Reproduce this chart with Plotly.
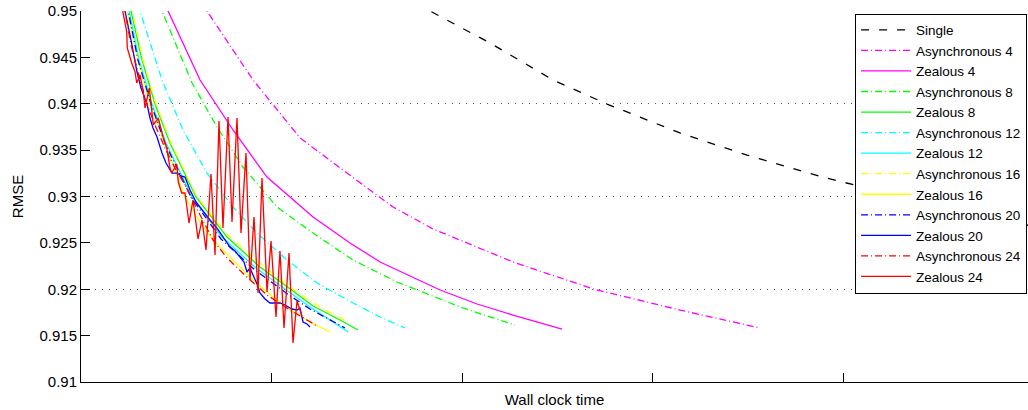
import plotly.graph_objects as go

# ---- data (x: wall clock time in tick units, y: RMSE) ----
single_x = [1.675, 1.832, 2.147, 2.478, 2.761, 3.144, 3.496, 3.890, 4.299, 4.824, 5.034]
single_y = [0.95183, 0.95, 0.94655, 0.94256, 0.93997, 0.93685, 0.93447, 0.93210, 0.93005, 0.92757, 0.92660]

async4_x = [0.598, 0.661, 0.903, 1.150, 1.396, 1.638, 1.848, 2.268, 2.688, 3.144, 3.564]
async4_y = [0.95226, 0.95, 0.94256, 0.93631, 0.93253, 0.92887, 0.92650, 0.92294, 0.92003, 0.91776, 0.91582]

zeal4_x = [0.415, 0.457, 0.625, 0.798, 0.976, 1.218, 1.412, 1.570, 1.885, 2.079, 2.268, 2.525]
zeal4_y = [0.95226, 0.95, 0.94256, 0.93717, 0.93210, 0.92779, 0.92499, 0.92294, 0.91992, 0.91841, 0.91722, 0.91571]

async8_x = [0.388, 0.425, 0.583, 0.714, 0.850, 1.029, 1.218, 1.428, 1.659, 2.005, 2.278]
async8_y = [0.95226, 0.95, 0.94224, 0.93749, 0.93318, 0.92887, 0.92606, 0.92315, 0.92078, 0.91798, 0.91614]

zeal8_x = [0.2415, 0.2625, 0.3202, 0.3885, 0.4672, 0.6037, 0.7664, 0.9396, 1.1129, 1.2178, 1.3596, 1.4541]
zeal8_y = [0.95226, 0.95, 0.94472, 0.93997, 0.93577, 0.92995, 0.92563, 0.92240, 0.91981, 0.91819, 0.91668, 0.91561]

async12_x = [0.2887, 0.3097, 0.4252, 0.5354, 0.6614, 0.7979, 0.9239, 1.0814, 1.2388, 1.4278, 1.5696, 1.7008]
async12_y = [0.95226, 0.95, 0.94256, 0.93717, 0.93253, 0.92887, 0.92606, 0.92315, 0.92067, 0.91852, 0.91701, 0.91582]

zeal12_x = [0.2310, 0.2520, 0.3045, 0.3727, 0.4462, 0.5827, 0.7402, 0.9186, 1.0971, 1.2021, 1.3071, 1.4016]
zeal12_y = [0.95226, 0.95, 0.94472, 0.93997, 0.93577, 0.92995, 0.92563, 0.92229, 0.91960, 0.91809, 0.91668, 0.91539]

async16_x = [0.2467, 0.2677, 0.3255, 0.3937, 0.4724, 0.6089, 0.7717, 0.9449, 1.1181, 1.2546, 1.4121]
async16_y = [0.95226, 0.95, 0.94472, 0.93997, 0.93577, 0.92995, 0.92585, 0.92272, 0.91992, 0.91809, 0.91636]

zeal16_x = [0.2205, 0.2415, 0.2992, 0.3622, 0.4147, 0.5459, 0.6247, 0.6929, 0.7822, 0.9029, 0.9764, 1.0604, 1.2021, 1.3071]
zeal16_y = [0.95226, 0.95, 0.94472, 0.93997, 0.93717, 0.92995, 0.92725, 0.92531, 0.92348, 0.92100, 0.91970, 0.91830, 0.91647, 0.91539]

async20_x = [0.2257, 0.2467, 0.2992, 0.3675, 0.4409, 0.5774, 0.7349, 0.9134, 1.0919, 1.2021, 1.3071, 1.3858]
async20_y = [0.95226, 0.95, 0.94472, 0.93997, 0.93577, 0.92995, 0.92542, 0.92207, 0.91938, 0.91787, 0.91668, 0.91582]

zeal20_x = [0.2047, 0.2310, 0.2625, 0.2940, 0.3150, 0.3465, 0.3622, 0.3780, 0.3990, 0.4252, 0.4462,
            0.4777, 0.5039, 0.5249, 0.5459, 0.5722, 0.6037, 0.6352, 0.6772, 0.7139, 0.7507, 0.7822,
            0.8084, 0.8346, 0.8556, 0.8714, 0.8871, 0.9029, 0.9239, 0.9396, 0.9659, 0.9921, 1.0184,
            1.0446, 1.0709, 1.0866, 1.1076, 1.1339, 1.1496, 1.1654, 1.1864, 1.2021]
zeal20_y = [0.95226, 0.95, 0.94687, 0.94342, 0.94170, 0.93997, 0.93846, 0.93739, 0.93641, 0.93469, 0.93361,
            0.93253, 0.93253, 0.93221, 0.93210, 0.93070, 0.92941, 0.92854, 0.92747, 0.92660, 0.92552, 0.92455,
            0.92412, 0.92348, 0.92294, 0.92186, 0.92229, 0.92153, 0.92057, 0.91960, 0.91895, 0.91852, 0.91852,
            0.91852, 0.91830, 0.91809, 0.91787, 0.91776, 0.91798, 0.91647, 0.91625, 0.91593]

async24_x = [0.2100, 0.2310, 0.2625, 0.3097, 0.3465, 0.3885, 0.4409, 0.4934, 0.5459, 0.5984, 0.6509,
             0.6929, 0.7664, 0.8766, 0.9764, 1.0971, 1.1864, 1.2388]
async24_y = [0.95226, 0.95, 0.94633, 0.94256, 0.93997, 0.93771, 0.93523, 0.93307, 0.93124, 0.92908, 0.92693,
             0.92531, 0.92337, 0.92121, 0.91938, 0.91776, 0.91668, 0.91604]

zeal24_x = [0.2152, 0.2189, 0.2399, 0.2430, 0.2661, 0.2835, 0.2924, 0.3097, 0.3270, 0.3360, 0.3585,
            0.3711, 0.3795, 0.4058, 0.4320, 0.4499, 0.4672, 0.4761, 0.5024, 0.5108, 0.5286, 0.5459,
            0.5669, 0.5879, 0.6142, 0.6352, 0.6562, 0.6824, 0.7034, 0.7244, 0.7454, 0.7717, 0.7927,
            0.8189, 0.8399, 0.8661, 0.8871, 0.9081, 0.9291, 0.9501, 0.9764, 0.9974, 1.0236, 1.0446,
            1.0656, 1.0919, 1.1129, 1.1339, 1.1601]
zeal24_y = [0.95226, 0.95, 0.94777, 0.94601, 0.94439, 0.94346, 0.94224, 0.94310, 0.94130, 0.93954, 0.94170,
            0.93914, 0.93771, 0.93846, 0.93631, 0.93523, 0.93307, 0.93253, 0.93350, 0.93156, 0.93038, 0.93038,
            0.92714, 0.92962, 0.92542, 0.92747, 0.92423, 0.93243, 0.92369, 0.93814, 0.92660, 0.93857, 0.92725,
            0.93846, 0.92606, 0.93469, 0.92100, 0.92779, 0.91960, 0.93199, 0.91970, 0.92520, 0.91701, 0.92412,
            0.91582, 0.92391, 0.91420, 0.91873, 0.91711]

y_ticks = [0.91, 0.915, 0.92, 0.925, 0.93, 0.935, 0.94, 0.945, 0.95]
y_ticktext = ["0.91", "0.915", "0.92", "0.925", "0.93", "0.935", "0.94", "0.945", "0.95"]
y_grid = [0.92, 0.93, 0.94]
x_ticks = [0, 1, 2, 3, 4]

series = [
    ("Single", single_x, single_y, "#000000", "8px,10px"),
    ("Asynchronous 4", async4_x, async4_y, "#ff00ff", "7px,3px,1px,3px"),
    ("Zealous 4", zeal4_x, zeal4_y, "#ff00ff", "solid"),
    ("Asynchronous 8", async8_x, async8_y, "#00ff00", "7px,3px,1px,3px"),
    ("Zealous 8", zeal8_x, zeal8_y, "#00ff00", "solid"),
    ("Asynchronous 12", async12_x, async12_y, "#00ffff", "7px,3px,1px,3px"),
    ("Zealous 12", zeal12_x, zeal12_y, "#00ffff", "solid"),
    ("Asynchronous 16", async16_x, async16_y, "#ffff00", "7px,3px,1px,3px"),
    ("Zealous 16", zeal16_x, zeal16_y, "#ffff00", "solid"),
    ("Asynchronous 20", async20_x, async20_y, "#0000ff", "7px,3px,1px,3px"),
    ("Zealous 20", zeal20_x, zeal20_y, "#0000ff", "solid"),
    ("Asynchronous 24", async24_x, async24_y, "#ff0000", "7px,3px,1px,3px"),
    ("Zealous 24", zeal24_x, zeal24_y, "#ff0000", "solid"),
]

fig = go.Figure()
for i, (name, xs, ys, color, dash) in enumerate(series):
    fig.add_trace(go.Scatter(
        x=xs, y=ys, mode="lines", name=name,
        line=dict(color=color, width=1.3, dash=dash),
        yaxis="y2" if i == 0 else "y",
    ))

font_family = "Liberation Sans, Arial, sans-serif"
fig.update_layout(
    width=1028, height=410,
    margin=dict(l=81, r=0, t=11, b=28, autoexpand=False),
    paper_bgcolor="white", plot_bgcolor="white",
    font=dict(family=font_family, size=15, color="#000"),
    showlegend=True,
    legend=dict(
        x=0.999, y=0.993, xanchor="right", yanchor="top",
        bgcolor="white", bordercolor="#000", borderwidth=1,
        font=dict(family=font_family, size=13.5, color="#000"),
        itemwidth=50, tracegroupgap=0,
    ),
    xaxis=dict(
        range=[0, 4.971], tickvals=x_ticks, showticklabels=False,
        ticks="inside", ticklen=9, tickcolor="#000", tickwidth=1,
        showline=True, linecolor="#000", linewidth=1,
        showgrid=False, zeroline=False, automargin=False,
        title=dict(text="Wall clock time", standoff=12, font=dict(size=15)),
    ),
    yaxis=dict(
        range=[0.91, 0.95], tickvals=y_ticks, ticktext=y_ticktext,
        ticks="inside", ticklen=9, tickcolor="#000", tickwidth=1,
        showline=True, linecolor="#000", linewidth=1,
        showgrid=False, zeroline=False, automargin=False,
        ticklabeloverflow="allow",
        tickfont=dict(size=15),
        title=dict(text="RMSE", standoff=12, font=dict(size=15)),
    ),
    yaxis2=dict(
        range=[0.91, 0.95], overlaying="y", side="left",
        tickvals=y_grid, showticklabels=False, ticks="",
        showgrid=True, gridcolor="#555", gridwidth=1, griddash="1px,6px",
        showline=False, zeroline=False, automargin=False,
    ),
)

# remove the default page margin so the figure sits at the window's top-left corner
fig.write_html("out.html", config={"displayModeBar": False},
               post_script="document.body.style.margin='0';")
